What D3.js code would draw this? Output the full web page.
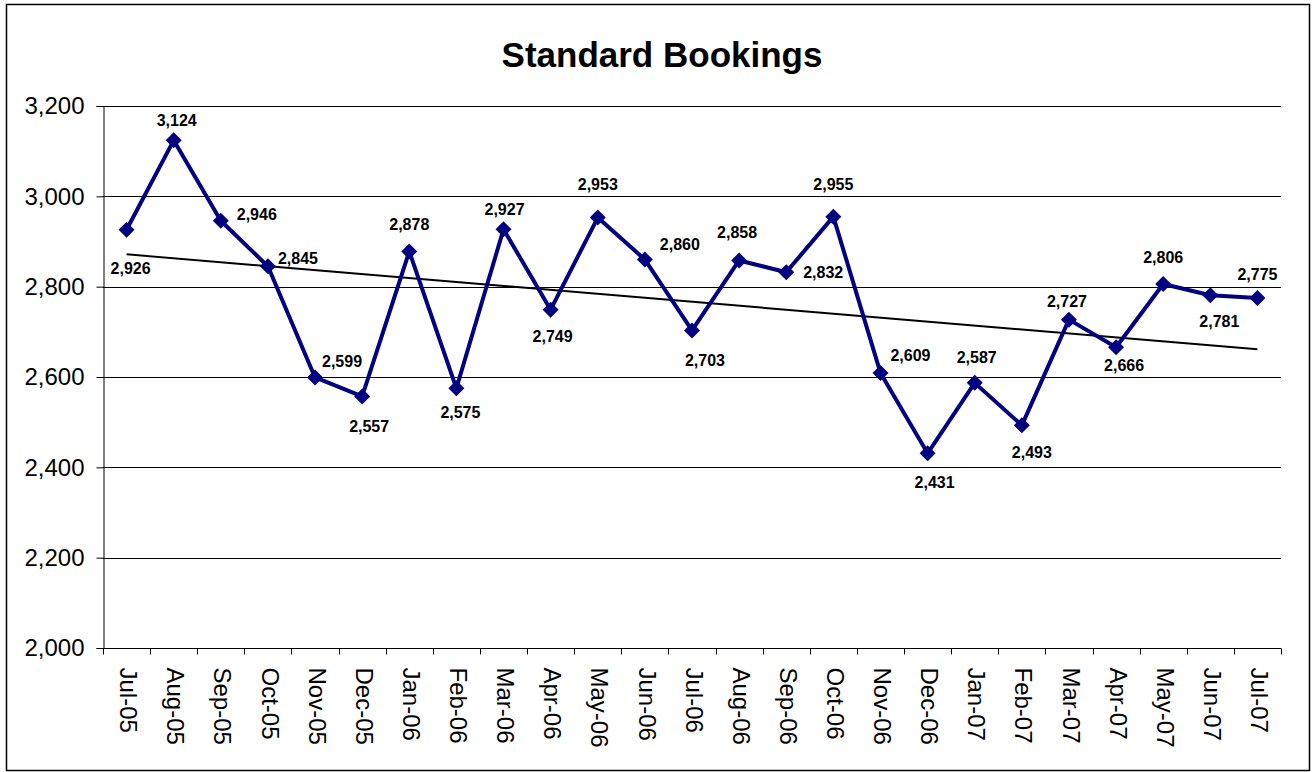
<!DOCTYPE html>
<html lang="en">
  <head>
    <meta charset="UTF-8" />
    <title>Standard Bookings</title>
    <script src="https://d3js.org/d3.v7.min.js"></script>
    <style>
      body { margin: 0; background: #fff; }
      text { font-family: "Liberation Sans", Arial, sans-serif; }
    </style>
  </head>
  <body>
    <div id="chart"></div>
  </body>
</html>

<script>
  const months = [
    "Jul-05", "Aug-05", "Sep-05", "Oct-05", "Nov-05", "Dec-05", "Jan-06",
    "Feb-06", "Mar-06", "Apr-06", "May-06", "Jun-06", "Jul-06", "Aug-06",
    "Sep-06", "Oct-06", "Nov-06", "Dec-06", "Jan-07", "Feb-07", "Mar-07",
    "Apr-07", "May-07", "Jun-07", "Jul-07"
  ]
  const bookings = [
    2926, 3124, 2946, 2845, 2599, 2557, 2878, 2575, 2927, 2749, 2953, 2860,
    2703, 2858, 2832, 2955, 2609, 2431, 2587, 2493, 2727, 2666, 2806, 2781, 2775
  ]
  const yTicks = [2000, 2200, 2400, 2600, 2800, 3000, 3200]

  // where each data label sits relative to its marker (dx, dy of label centre)
  const labelOffsets = [
    [4, 39], [3, -20], [36, -6], [30, -8], [27, -16], [7, 30], [0, -27],
    [4, 24], [1, -20], [2, 27], [0, -33], [35, -15], [13, 30], [-2, -28],
    [37, 0], [0, -32], [30, -17], [7, 29], [2, -25], [10, 27], [-2, -18],
    [8, 18], [0, -26], [9, 26], [0, -23]
  ]

  const width = 1312, height = 772
  const plot = { left: 103, right: 1281, top: 106, bottom: 648 }

  const svg = d3.select("#chart").append("svg")
    .attr("width", width)
    .attr("height", height)

  // outer frame
  svg.append("rect")
    .attr("x", 6.5).attr("y", 4.5)
    .attr("width", 1303).attr("height", 766)
    .attr("fill", "#fff")
    .attr("stroke", "#000")
    .attr("stroke-width", 1.5)

  svg.append("text")
    .attr("x", 662).attr("y", 67)
    .attr("text-anchor", "middle")
    .attr("font-size", 35)
    .attr("font-weight", "bold")
    .text("Standard Bookings")

  const x = d3.scaleBand()
    .domain(months)
    .range([plot.left, plot.right])

  const y = d3.scaleLinear()
    .domain([2000, 3200])
    .range([plot.bottom, plot.top])

  const cx = (d, i) => x(months[i]) + x.bandwidth() / 2

  // gridlines
  svg.append("g")
    .selectAll("line")
    .data(yTicks.slice(1))
    .enter()
    .append("line")
    .attr("x1", plot.left).attr("x2", plot.right)
    .attr("y1", (d) => Math.round(y(d)) + 0.5)
    .attr("y2", (d) => Math.round(y(d)) + 0.5)
    .attr("stroke", "#000")
    .attr("stroke-width", 1)

  // y axis
  const yAxis = svg.append("g")
    .attr("transform", `translate(${plot.left + 0.5},0)`)
    .call(d3.axisLeft(y).tickValues(yTicks).tickSize(7).tickPadding(12)
      .tickFormat(d3.format(",")))
  yAxis.select(".domain").attr("stroke", "#000")
  yAxis.selectAll(".tick line").attr("stroke", "#000")
  yAxis.selectAll("text")
    .attr("font-size", 24)
    .attr("font-family", "'Liberation Sans', Arial, sans-serif")
    .attr("fill", "#000")

  // x axis: ticks on category boundaries
  const xAxis = svg.append("g")
    .attr("transform", `translate(0,${Math.round(plot.bottom) + 0.5})`)
  xAxis.append("line")
    .attr("x1", plot.left).attr("x2", plot.right)
    .attr("stroke", "#000")
  xAxis.selectAll(".bound")
    .data(months.concat(["end"]))
    .enter()
    .append("line")
    .attr("x1", (d, i) => Math.round(plot.left + i * x.bandwidth()) + 0.5)
    .attr("x2", (d, i) => Math.round(plot.left + i * x.bandwidth()) + 0.5)
    .attr("y1", 0).attr("y2", 6)
    .attr("stroke", "#000")
  xAxis.selectAll(".lbl")
    .data(months)
    .enter()
    .append("text")
    .attr("transform", (d) => `translate(${x(d) + x.bandwidth() / 2},19) rotate(90)`)
    .attr("dominant-baseline", "middle")
    .attr("font-size", 24)
    .text((d) => d)

  // linear trendline (least squares)
  const n = bookings.length
  const mx = d3.mean(bookings, (d, i) => i)
  const my = d3.mean(bookings)
  const slope = d3.sum(bookings, (d, i) => (i - mx) * (d - my)) /
    d3.sum(bookings, (d, i) => (i - mx) * (i - mx))
  const trend = [0, n - 1].map((i) => [cx(null, i), y(my + slope * (i - mx))])
  svg.append("path")
    .attr("d", d3.line()(trend))
    .attr("stroke", "#000")
    .attr("stroke-width", 2)
    .attr("fill", "none")

  // series line
  const line = d3.line()
    .x((d, i) => cx(d, i))
    .y((d) => y(d))
  svg.append("path")
    .datum(bookings)
    .attr("d", line)
    .attr("stroke", "#000080")
    .attr("stroke-width", 4)
    .attr("stroke-linejoin", "round")
    .attr("fill", "none")

  // diamond markers
  svg.selectAll(".marker")
    .data(bookings)
    .enter()
    .append("path")
    .attr("d", "M0,-8L8,0L0,8L-8,0Z")
    .attr("transform", (d, i) => `translate(${cx(d, i)},${y(d)})`)
    .attr("fill", "#000080")

  // data labels
  svg.selectAll(".dlabel")
    .data(bookings)
    .enter()
    .append("text")
    .attr("x", (d, i) => cx(d, i) + labelOffsets[i][0])
    .attr("y", (d, i) => y(d) + labelOffsets[i][1])
    .attr("text-anchor", "middle")
    .attr("dominant-baseline", "central")
    .attr("font-size", 16)
    .attr("font-weight", "bold")
    .text((d) => d3.format(",")(d))
</script>
